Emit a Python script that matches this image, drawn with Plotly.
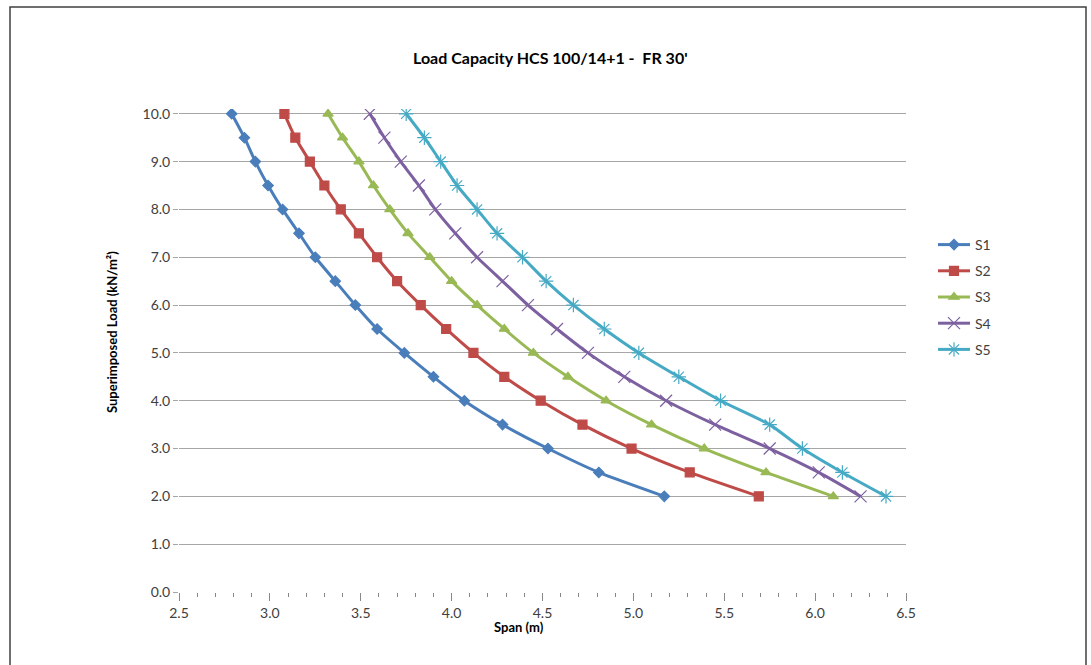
import plotly.graph_objects as go

loads = [10.0, 9.5, 9.0, 8.5, 8.0, 7.5, 7.0, 6.5, 6.0, 5.5, 5.0, 4.5, 4.0, 3.5, 3.0, 2.5, 2.0]

s1 = [2.79, 2.86, 2.92, 2.99, 3.07, 3.16, 3.25, 3.36, 3.47, 3.59, 3.74, 3.90, 4.07, 4.28, 4.53, 4.81, 5.17]
s2 = [3.08, 3.14, 3.22, 3.30, 3.39, 3.49, 3.59, 3.70, 3.83, 3.97, 4.12, 4.29, 4.49, 4.72, 4.99, 5.31, 5.69]
s3 = [3.32, 3.40, 3.49, 3.57, 3.66, 3.76, 3.88, 4.00, 4.14, 4.29, 4.45, 4.64, 4.85, 5.10, 5.39, 5.73, 6.10]
s4 = [3.55, 3.63, 3.72, 3.82, 3.91, 4.02, 4.14, 4.28, 4.42, 4.58, 4.75, 4.95, 5.18, 5.45, 5.75, 6.02, 6.25]
s5 = [3.75, 3.85, 3.94, 4.03, 4.14, 4.25, 4.39, 4.52, 4.67, 4.84, 5.03, 5.25, 5.48, 5.75, 5.93, 6.15, 6.39]

names = ["S1", "S2", "S3", "S4", "S5"]
colors = ["#4A7EBB", "#BE4B48", "#98B954", "#7D60A0", "#46AAC5"]
symbols = ["diamond", "square", "triangle-up", "x-thin-open", "asterisk-open"]
sizes = [8, 9, 9, 12, 12]

FONT = "Lato"
T, B = 109, 73
H = 665 - T - B

def py(pix):
    return (665 - B - pix) / H

def px(pix):
    return (pix - 179) / 727

fig = go.Figure()
for name, xs, c, sym, sz in zip(names, [s1, s2, s3, s4, s5], colors, symbols, sizes):
    fig.add_trace(go.Scatter(
        x=xs, y=loads, name=name, legendgroup=name, mode="lines+markers",
        line=dict(color=c, width=3, shape="spline", smoothing=0.6),
        marker=dict(symbol=sym, size=sz, color=c, line=dict(color=c, width=1.2)),
    ))

fig.update_layout(
    width=1091, height=665,
    margin=dict(l=179, r=185, t=T, b=B),
    paper_bgcolor="white", plot_bgcolor="white",
    font=dict(family=FONT, size=13, color="#404040"),
    showlegend=True,
    legend=dict(x=px(933), y=py(229), xanchor="left", yanchor="top",
                font=dict(family=FONT, size=14, color="#404040"),
                tracegroupgap=5, itemwidth=32),
    xaxis=dict(range=[2.5, 6.5], dtick=0.5, tick0=2.5, tickformat=".1f",
               showgrid=False, zeroline=False, showline=False,
               ticks="outside", ticklen=8, tickcolor="#888888",
               minor=dict(dtick=0.1, ticks="outside", ticklen=4, tickcolor="#888888"),
               tickfont=dict(family=FONT, size=14, color="#404040")),
    yaxis=dict(range=[0, 10.1], tickvals=[0, 1, 2, 3, 4, 5, 6, 7, 8, 9, 10], tickformat=".1f",
               showgrid=True, gridcolor="#A6A6A6", gridwidth=1,
               zeroline=False, showline=False,
               ticks="outside", ticklen=5, tickcolor="#A6A6A6",
               tickfont=dict(family=FONT, size=14, color="#404040")),
    annotations=[
        dict(text="<b>Load Capacity HCS 100/14+1 -  FR 30'</b>", xref="paper", yref="paper",
             x=px(550), y=py(57), xanchor="center", yanchor="middle",
             showarrow=False, font=dict(family=FONT, size=16, color="#000000")),
        dict(text="<b>Span (m)</b>", xref="paper", yref="paper",
             x=px(519), y=py(627), xanchor="center", yanchor="middle",
             showarrow=False, font=dict(family=FONT, size=13, color="#000000")),
        dict(text="<b>Superimposed Load (kN/m²)</b>", xref="paper", yref="paper",
             x=px(112), y=py(332), xanchor="center", yanchor="middle",
             textangle=-90, showarrow=False, font=dict(family=FONT, size=13, color="#000000")),
    ],
    shapes=[
        dict(type="rect", xref="paper", yref="paper",
             x0=px(10), x1=px(1086), y0=py(680), y1=py(7),
             line=dict(color="#404040", width=1.5), fillcolor="rgba(0,0,0,0)", layer="below"),
    ],
)

fig.write_html("out.html")
